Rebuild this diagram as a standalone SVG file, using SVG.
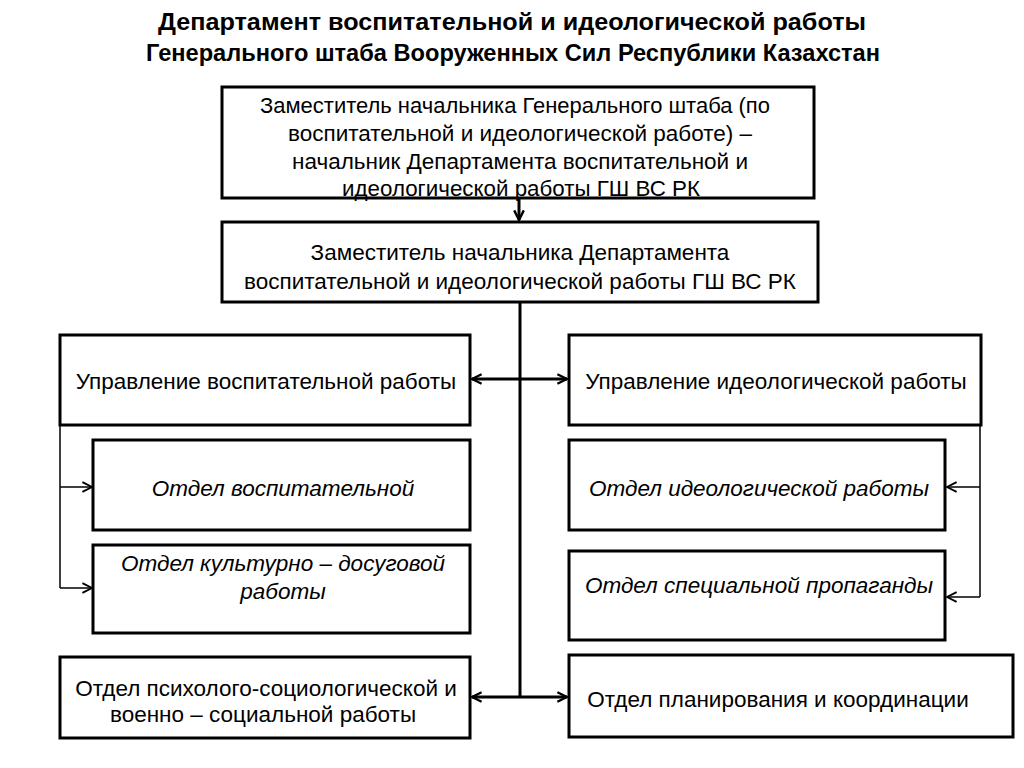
<svg xmlns="http://www.w3.org/2000/svg" width="1024" height="768" viewBox="0 0 1024 768">
<defs>
<style>
.box{fill:#fff;stroke:#000;stroke-width:3}
.t{font-family:"Liberation Sans",Arial,sans-serif;font-size:22.5px;fill:#000;text-anchor:middle}
.i{font-style:italic}
.title{font-family:"Liberation Sans",Arial,sans-serif;font-size:23px;font-weight:bold;fill:#000;text-anchor:middle}
.main{fill:none;stroke:#000;stroke-width:3}
.thin{fill:none;stroke:#000;stroke-width:1.5}
</style>
<marker id="ah" viewBox="0 0 10 10" refX="9" refY="5" markerWidth="12" markerHeight="12" markerUnits="userSpaceOnUse" orient="auto-start-reverse">
<path d="M1,1 L9,5 L1,9" fill="none" stroke="#000" stroke-width="2"/>
</marker>
<marker id="ahs" viewBox="0 0 10 10" refX="9" refY="5" markerWidth="12" markerHeight="12" markerUnits="userSpaceOnUse" orient="auto-start-reverse">
<path d="M1,1 L9,5 L1,9" fill="none" stroke="#000" stroke-width="1.6"/>
</marker>
</defs>
<rect width="1024" height="768" fill="#fff"/>
<text class="title" x="512" y="30" textLength="708" lengthAdjust="spacingAndGlyphs">Департамент воспитательной и идеологической работы</text>
<text class="title" x="513" y="61" textLength="734" lengthAdjust="spacingAndGlyphs">Генерального штаба Вооруженных Сил Республики Казахстан</text>

<g id="connectors">
<line class="main" x1="519" y1="198" x2="519" y2="220" marker-end="url(#ah)"/>
<line class="main" x1="520" y1="302" x2="520" y2="697"/>
<line class="main" x1="472" y1="379" x2="567" y2="379" marker-start="url(#ah)" marker-end="url(#ah)"/>
<line class="main" x1="472" y1="697" x2="567" y2="697" marker-start="url(#ah)" marker-end="url(#ah)"/>
<polyline class="thin" points="60,425 60,588"/>
<line class="thin" x1="60" y1="487" x2="92" y2="487" marker-end="url(#ahs)"/>
<line class="thin" x1="60" y1="588" x2="92" y2="588" marker-end="url(#ahs)"/>
<polyline class="thin" points="980,425 980,597"/>
<line class="thin" x1="980" y1="487" x2="947" y2="487" marker-end="url(#ahs)"/>
<line class="thin" x1="980" y1="597" x2="947" y2="597" marker-end="url(#ahs)"/>
</g>

<g id="n1">
<rect class="box" x="222" y="87" width="592" height="111"/>
<text class="t" x="515" y="113" textLength="510" lengthAdjust="spacingAndGlyphs">Заместитель начальника Генерального штаба (по</text>
<text class="t" x="520" y="141" textLength="464" lengthAdjust="spacingAndGlyphs">воспитательной и идеологической работе) –</text>
<text class="t" x="520" y="169" textLength="456" lengthAdjust="spacingAndGlyphs">начальник Департамента воспитательной и</text>
<text class="t" x="521" y="196" textLength="358" lengthAdjust="spacingAndGlyphs">идеологической работы ГШ ВС РК</text>
</g>
<g id="n2">
<rect class="box" x="222" y="222" width="596" height="80"/>
<text class="t" x="520" y="260">Заместитель начальника Департамента</text>
<text class="t" x="520" y="289">воспитательной и идеологической работы ГШ ВС РК</text>
</g>
<g id="n3">
<rect class="box" x="60" y="335" width="410" height="90"/>
<text class="t" x="266" y="389">Управление воспитательной работы</text>
</g>
<g id="n4">
<rect class="box" x="569" y="335" width="412" height="90"/>
<text class="t" x="776" y="389">Управление идеологической работы</text>
</g>
<g id="n5">
<rect class="box" x="93" y="440" width="377" height="90"/>
<text class="t i" x="283" y="496">Отдел воспитательной</text>
</g>
<g id="n6">
<rect class="box" x="93" y="545" width="377" height="88"/>
<text class="t i" x="283" y="571">Отдел культурно – досуговой</text>
<text class="t i" x="283" y="599">работы</text>
</g>
<g id="n7">
<rect class="box" x="569" y="440" width="376" height="90"/>
<text class="t i" x="759" y="496">Отдел идеологической работы</text>
</g>
<g id="n8">
<rect class="box" x="569" y="551" width="376" height="89"/>
<text class="t i" x="759" y="593">Отдел специальной пропаганды</text>
</g>
<g id="n9">
<rect class="box" x="60" y="657" width="410" height="81"/>
<text class="t" x="266" y="696">Отдел психолого-социологической и</text>
<text class="t" x="263" y="722">военно – социальной работы</text>
</g>
<g id="n10">
<rect class="box" x="569" y="655" width="444" height="82"/>
<text class="t" x="778" y="707">Отдел планирования и координации</text>
</g>
</svg>
